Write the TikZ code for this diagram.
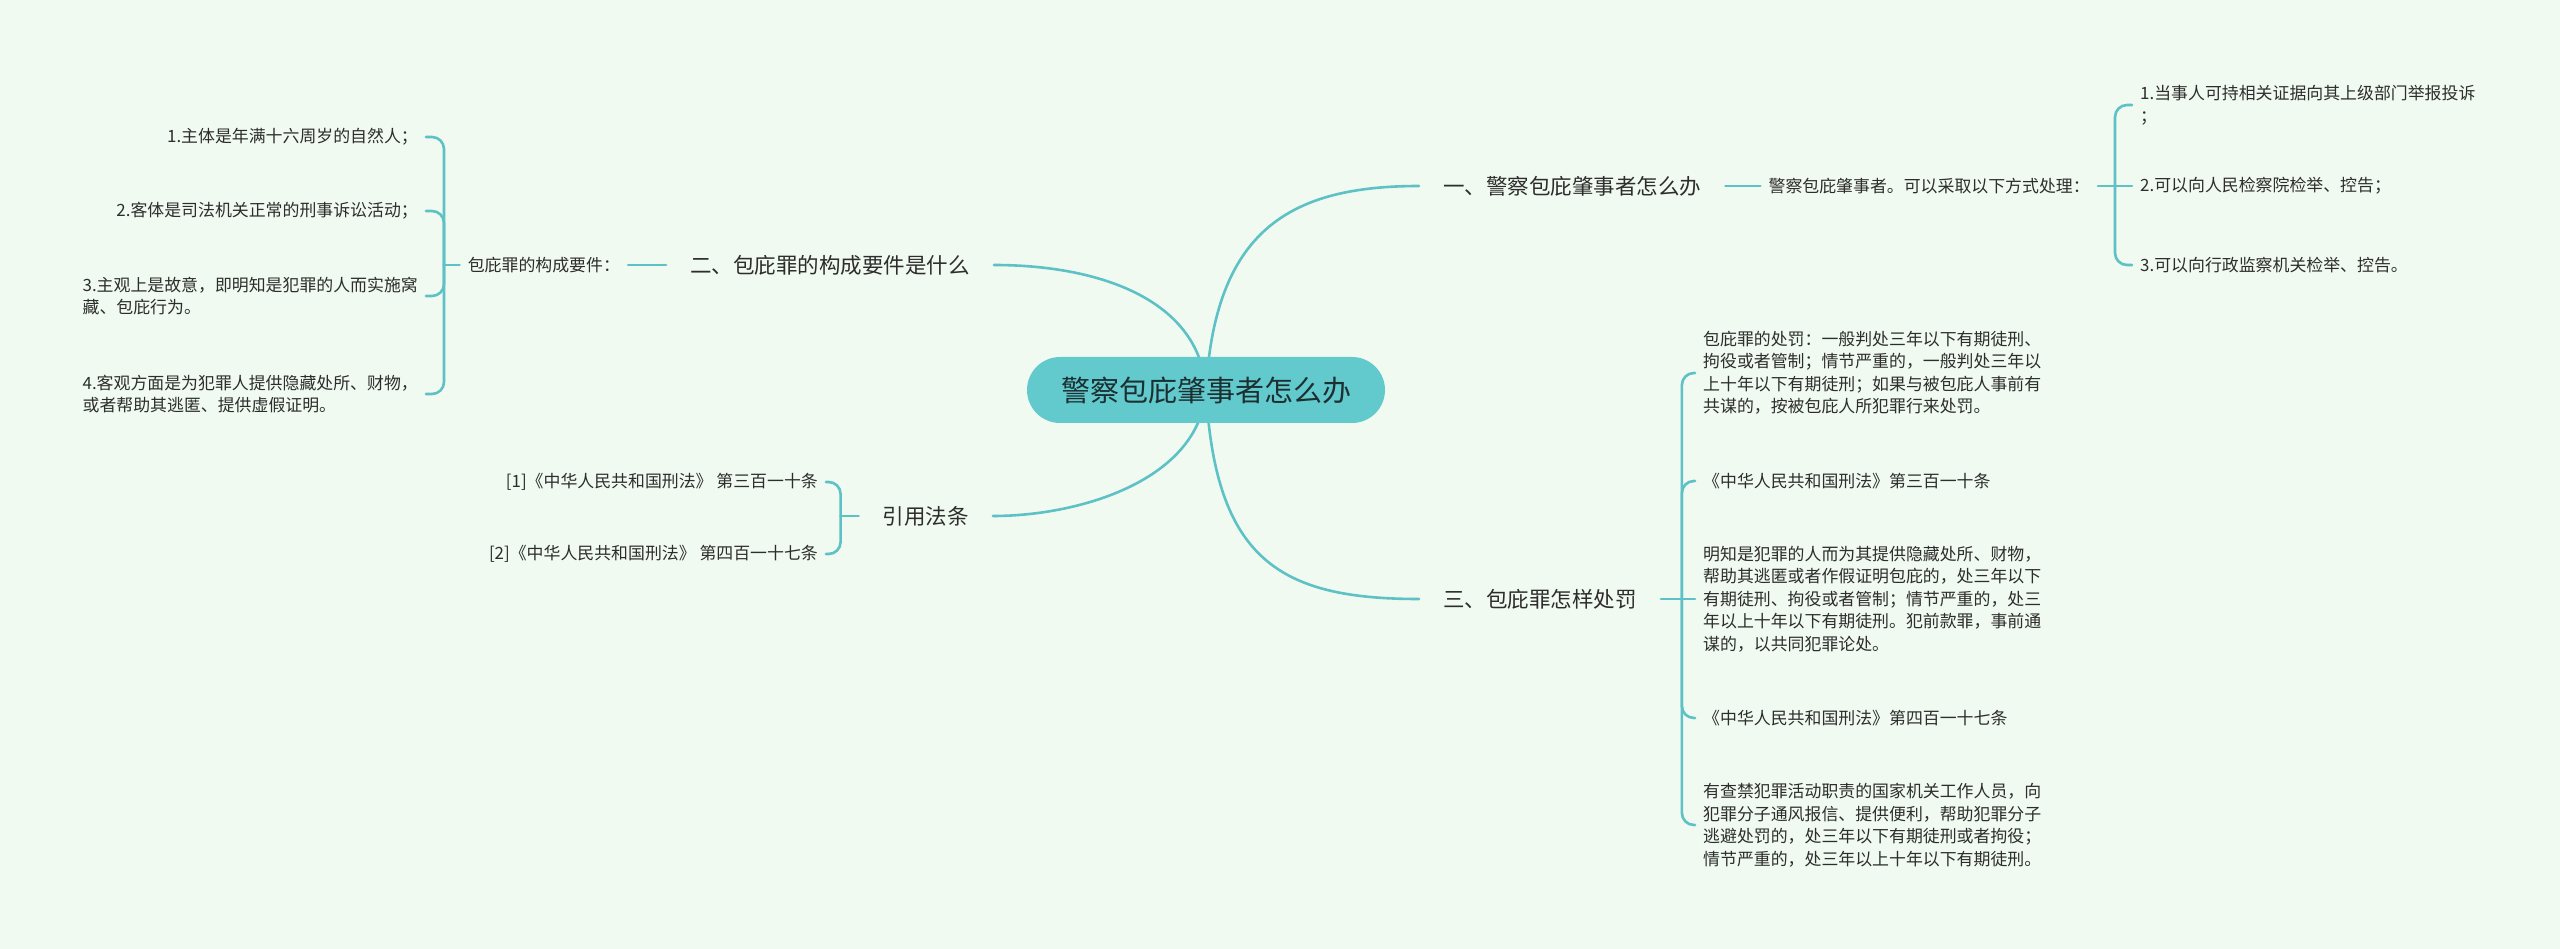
\documentclass[tikz,border=0pt]{standalone}
\usepackage{fontspec}
\newfontfamily\cjk{Noto Sans CJK SC}
\definecolor{mapbg}{RGB}{240,250,240}
\definecolor{mapteal}{RGB}{94,193,198}
\definecolor{rootfill}{RGB}{98,201,204}
\definecolor{roottext}{RGB}{28,48,50}
\definecolor{inkgray}{RGB}{45,45,45}
\usetikzlibrary{positioning,backgrounds}

\begin{document}
\begin{tikzpicture}[x=1pt,y=-1pt,
  link/.style={draw=mapteal,line width=2.6pt,line cap=round},
  brace/.style={link,rounded corners=12pt},
  branch/.style={inner xsep=24pt,inner ysep=4pt,text=inkgray,font=\cjk\fontsize{21.5}{26}\selectfont},
  leaf/.style={inner xsep=8pt,inner ysep=3pt,align=left,text=inkgray,font=\cjk\fontsize{16.9}{22.5}\selectfont}]
\useasboundingbox (0,0) rectangle (2560,949);
% central topic
\node[fill=rootfill,rounded corners=33pt,minimum width=358pt,minimum height=66pt,
  text=roottext,font=\cjk\fontsize{29}{34}\selectfont] (root) at (1206,390) {警察包庇肇事者怎么办};

% branch one (upper right)
\node[branch,anchor=west] (q1) at (1419,186) {一、警察包庇肇事者怎么办};
\node[leaf,right=35pt of q1] (q1s) {警察包庇肇事者。可以采取以下方式处理：};
\coordinate (h1) at (2115,186);
\node[leaf,anchor=west] (r1) at (2132,105) {1.当事人可持相关证据向其上级部门举报投诉\\；};
\node[leaf,anchor=west] (r2) at (2132,186) {2.可以向人民检察院检举、控告；};
\node[leaf,anchor=west] (r3) at (2132,265) {3.可以向行政监察机关检举、控告。};
\draw[link] (q1.east) -- (q1s.west);
\draw[link] (q1s.east) -- (h1);
\draw[link] (h1) -- (r2.west);
\foreach \k in {1,3} \draw[brace] (h1) |- (r\k.west);

% branch two (upper left)
\node[branch,anchor=east] (q2) at (994,265) {二、包庇罪的构成要件是什么};
\node[leaf,left=38pt of q2] (q2s) {包庇罪的构成要件：};
\coordinate (h2) at (444,265);
\node[leaf,anchor=east] (e1) at (426,137) {1.主体是年满十六周岁的自然人；};
\node[leaf,anchor=east] (e2) at (426,211) {2.客体是司法机关正常的刑事诉讼活动；};
\node[leaf,anchor=east] (e3) at (426,296) {3.主观上是故意，即明知是犯罪的人而实施窝\\藏、包庇行为。};
\node[leaf,anchor=east] (e4) at (426,394) {4.客观方面是为犯罪人提供隐藏处所、财物，\\或者帮助其逃匿、提供虚假证明。};
\draw[link] (q2.west) -- (q2s.east);
\draw[link] (q2s.west) -- (h2);
\foreach \k in {1,...,4} \draw[brace] (h2) |- (e\k.east);

% cited articles (lower left)
\node[branch,anchor=east] (law) at (993,516) {引用法条};
\coordinate[left=18pt of law] (h4);
\node[leaf,anchor=east] (c1) at (826,482) {[1]《中华人民共和国刑法》 第三百一十条};
\node[leaf,anchor=east] (c2) at (826,554) {[2]《中华人民共和国刑法》 第四百一十七条};
\draw[link] (law.west) -- (h4);
\foreach \k in {1,2} \draw[brace] (h4) |- (c\k.east);

% branch three (lower right)
\node[branch,anchor=west] (q3) at (1419,599) {三、包庇罪怎样处罚};
\coordinate[right=21pt of q3] (h3);
\node[leaf,anchor=west] (p1) at (1695,373) {包庇罪的处罚：一般判处三年以下有期徒刑、\\拘役或者管制；情节严重的，一般判处三年以\\上十年以下有期徒刑；如果与被包庇人事前有\\共谋的，按被包庇人所犯罪行来处罚。};
\node[leaf,anchor=west] (p2) at (1695,481) {《中华人民共和国刑法》第三百一十条};
\node[leaf,anchor=west] (p3) at (1695,599) {明知是犯罪的人而为其提供隐藏处所、财物，\\帮助其逃匿或者作假证明包庇的，处三年以下\\有期徒刑、拘役或者管制；情节严重的，处三\\年以上十年以下有期徒刑。犯前款罪，事前通\\谋的，以共同犯罪论处。};
\node[leaf,anchor=west] (p4) at (1695,718) {《中华人民共和国刑法》第四百一十七条};
\node[leaf,anchor=west] (p5) at (1695,825) {有查禁犯罪活动职责的国家机关工作人员，向\\犯罪分子通风报信、提供便利，帮助犯罪分子\\逃避处罚的，处三年以下有期徒刑或者拘役；\\情节严重的，处三年以上十年以下有期徒刑。};
\draw[link] (q3.east) -- (h3);
\draw[link] (h3) -- (p3.west);
\foreach \k in {1,2,4,5} \draw[brace] (h3) |- (p\k.west);

% page and main curves behind the central topic
\begin{scope}[on background layer]
\fill[mapbg] (0,0) rectangle (2560,949);
\draw[link] (root.center) .. controls (1215,230) and (1290,186) .. (q1.west);
\draw[link] (root.center) .. controls (1200,300) and (1100,265) .. (q2.east);
\draw[link] (root.center) .. controls (1200,480) and (1080,516) .. (law.east);
\draw[link] (root.center) .. controls (1215,560) and (1280,599) .. (q3.west);
\end{scope}
\end{tikzpicture}
\end{document}
